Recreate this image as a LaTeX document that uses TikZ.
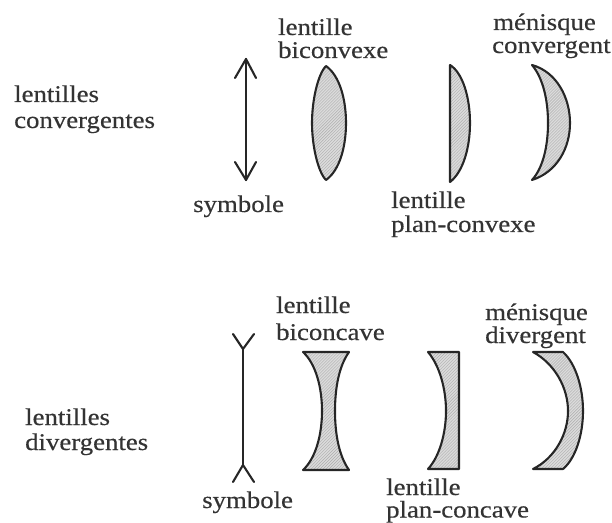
\documentclass[tikz,border=0pt]{standalone}
\usepackage{fontspec}
\setmainfont[FakeStretch=1.12,FakeBold=0.4]{Liberation Serif}
\usetikzlibrary{patterns,arrows.meta}
\tikzset{
  lab/.style={anchor=base west,inner sep=0pt,font=\fontsize{24}{24}\selectfont,text=black!80},
  lens/.style={draw=black!85,line width=2.1pt,line join=round,preaction={fill=black!14},pattern=north east lines,pattern color=black!32},
  sym/.style={draw=black!85,line width=2.1pt,line cap=round,line join=round},
}
\begin{document}
\begin{tikzpicture}[x=1bp,y=-1bp]
\useasboundingbox (0,0) rectangle (612,523);
% top labels
\node[lab] (t1) at (14,102) {lentilles};
\node[lab] (t2) at (14,128) {convergentes};
\node[lab] (t3) at (278,35) {lentille};
\node[lab] (t4) at (278,58) {biconvexe};
\node[lab] (t5) at (493,30) {ménisque};
\node[lab] (t6) at (492,53) {convergent};
\node[lab] (t7) at (193,212) {symbole};
\node[lab] (t8) at (391,208) {lentille};
\node[lab] (t9) at (391,232) {plan-convexe};
% bottom labels
\node[lab] (b1) at (25,425) {lentilles};
\node[lab] (b2) at (25,450) {divergentes};
\node[lab] (b3) at (276,313) {lentille};
\node[lab] (b4) at (276,340) {biconcave};
\node[lab] (b5) at (485,320) {ménisque};
\node[lab] (b6) at (485,343) {divergent};
\node[lab] (b7) at (202,508) {symbole};
\node[lab] (b8) at (386,495) {lentille};
\node[lab] (b9) at (386,517.5) {plan-concave};
% converging symbol
\draw[sym] (246,59) -- (246,180);
\draw[sym] (235,78) -- (246,59) -- (256,78);
\draw[sym] (235,162) -- (246,180) -- (256,162);
% biconvex
\path[lens] (326,66) .. controls (340,76) and (346,100) .. (346,123) .. controls (346,146) and (340,170) .. (326,180) .. controls (318,172) and (312,146) .. (312,123) .. controls (312,100) and (318,74) .. (326,66) -- cycle;
% plano-convex
\path[lens] (450,65) .. controls (463,73) and (470,98) .. (470,123) .. controls (470,148) and (463,172) .. (450,182) -- cycle;
% converging meniscus
\path[lens] (532,65) .. controls (557,72) and (570,98) .. (570,123) .. controls (570,148) and (557,172) .. (532,180) .. controls (543,168) and (548,146) .. (548,123) .. controls (548,100) and (543,78) .. (532,65) -- cycle;
% diverging symbol
\draw[sym] (243,349) -- (243,465);
\draw[sym] (233,334) -- (243,349) -- (254,334);
\draw[sym] (233,482) -- (243,465) -- (254,482);
% biconcave
\path[lens] (303,352) -- (349,352) .. controls (339,366) and (335,388) .. (335,411) .. controls (335,434) and (339,456) .. (349,470) -- (303,470) .. controls (316,458) and (322,434) .. (322,411) .. controls (322,388) and (316,364) .. (303,352) -- cycle;
% plano-concave
\path[lens] (428,352) -- (459,352) -- (459,469) -- (428,469) .. controls (440,456) and (446,432) .. (446,411) .. controls (446,390) and (440,366) .. (428,352) -- cycle;
% diverging meniscus
\path[lens] (533,352) -- (563,352) .. controls (576,364) and (583,388) .. (583,411) .. controls (583,434) and (576,458) .. (563,469) -- (533,469) .. controls (555,458) and (568,434) .. (568,411) .. controls (568,388) and (555,364) .. (533,352) -- cycle;
\end{tikzpicture}
\end{document}
